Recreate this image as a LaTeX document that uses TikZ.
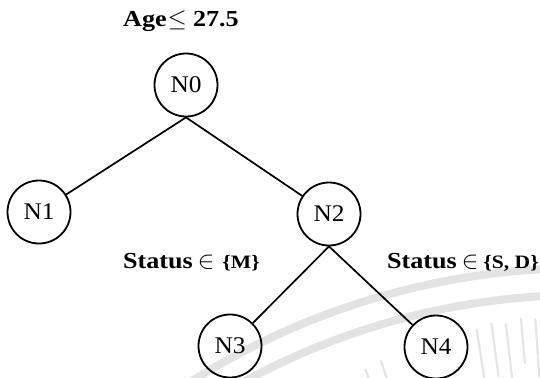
\documentclass[tikz,border=0pt]{standalone}
\usepackage{fontspec}
\setmainfont{Liberation Serif}
\newfontfamily\nodefont[FakeStretch=1.06]{Liberation Serif}
\newfontfamily\rulefont[FakeStretch=1.14]{Liberation Serif}
\usetikzlibrary{calc}
\begin{document}
\begin{tikzpicture}[x=1bp,y=-1bp,
  treenode/.style={circle,draw=black,line width=1.8bp,minimum size=63bp,inner sep=0pt,
    font=\nodefont\fontsize{24}{27}\selectfont},
  branch/.style={draw=black,line width=1.7bp},
  rulelabel/.style={anchor=base west,inner sep=0pt,font=\rulefont\bfseries\fontsize{23}{26}\selectfont},
  wmark/.style={draw=black!11,line width=8bp},
  wray/.style={draw=black!10,line width=2.2bp}]
\useasboundingbox (0,0) rectangle (540,377);
\clip (0,0) rectangle (540,377);
% faint watermark behind the tree
\coordinate (wc) at (583,1001);
\draw[wmark] ($(wc)+(234:733)$) arc[start angle=234,end angle=276,radius=733];
\draw[wmark] ($(wc)+(238:706)$) arc[start angle=238,end angle=276,radius=706];
\foreach \a/\ri/\ro in {251/615/668,252.5/625/672,261/600/680,262.3/630/684,263.5/610/682,264.8/640/686,266/605/684,267.2/625/686,268.4/615/688,269.6/640/690,270.8/620/688,272/600/686,273.2/630/688}
  \draw[wray] ($(wc)+(\a:\ri)$) -- ($(wc)+(\a:\ro)$);
% tree
\node[treenode] (n0) at (186,85) {N0};
\node[treenode] (n1) at (39,212) {N1};
\node[treenode] (n2) at (329,214) {N2};
\node[treenode] (n3) at (230,346) {N3};
\node[treenode] (n4) at (436,347) {N4};
\draw[branch] (n0.south) -- (n1);
\draw[branch] (n0.south) -- (n2);
\draw[branch] (n2.south) -- (n3);
\draw[branch] (n2.south) -- (n4);
% split conditions
\node[rulelabel] (lab0) at (123,26) {Age\hspace{1bp}$\le$\hspace{6bp}27.5};
\node[rulelabel] (lab1) at (123,268) {Status\hspace{5bp}$\in$\hspace{8bp}{\fontsize{19}{22}\selectfont\{M\}}};
\node[rulelabel] (lab2) at (387,268) {Status\hspace{5bp}$\in$\hspace{5bp}{\fontsize{19}{22}\selectfont\{S, D\}}};
\end{tikzpicture}
\end{document}
